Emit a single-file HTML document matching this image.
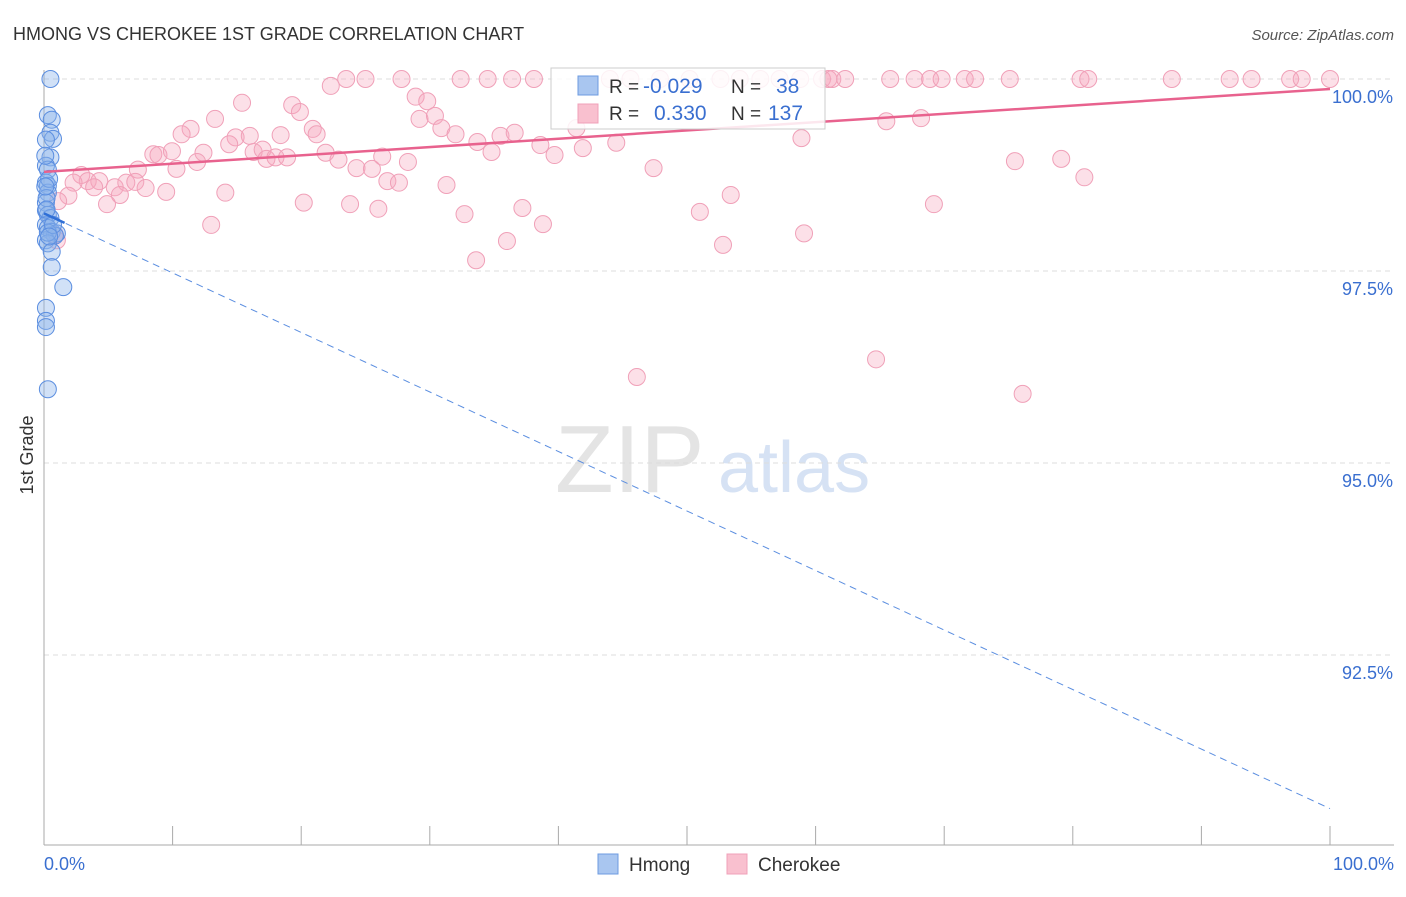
<!DOCTYPE html>
<html><head><meta charset="utf-8"><style>
body{margin:0;background:#fff;font-family:"Liberation Sans",sans-serif;}
svg text{font-family:"Liberation Sans",sans-serif;}
</style></head><body>
<svg id="chart" width="1406" height="892">
<text x="13" y="40" font-size="18" fill="#333">HMONG VS CHEROKEE 1ST GRADE CORRELATION CHART</text>
<text x="1394" y="40" font-size="15" fill="#555" text-anchor="end" font-style="italic">Source: ZipAtlas.com</text>
<text x="33" y="455" font-size="18" fill="#333" text-anchor="middle" transform="rotate(-90 33 455)">1st Grade</text>
<text x="555" y="492" font-size="96" fill="#e4e4e4" font-family="Liberation Serif">ZIP</text>
<text x="718" y="492" font-size="72" fill="#d6e2f4">atlas</text>
<g id="grid"></g><g id="pts"></g><g id="lines"></g>
<g>
<rect x="551" y="68" width="274" height="61" fill="#fff" fill-opacity="0.85" stroke="#ccc"/>
<rect x="578" y="76" width="20" height="19" fill="#a9c6f0" stroke="#6d9be0"/>
<rect x="578" y="104" width="20" height="19" fill="#f9c0cf" stroke="#f0a0b8"/>
<text x="609" y="93" font-size="19" fill="#333">R =</text><text x="643" y="93" font-size="21" fill="#3a6fd0">-0.029</text>
<text x="731" y="93" font-size="19" fill="#333">N =</text><text x="776" y="93" font-size="21" fill="#3a6fd0">38</text>
<text x="609" y="120" font-size="19" fill="#333">R =</text><text x="654" y="120" font-size="21" fill="#3a6fd0">0.330</text>
<text x="731" y="120" font-size="19" fill="#333">N =</text><text x="768" y="120" font-size="21" fill="#3a6fd0">137</text>
</g>
<g>
<rect x="598" y="854" width="20" height="20" fill="#a9c6f0" stroke="#6d9be0"/>
<text x="629" y="871" font-size="19" fill="#333">Hmong</text>
<rect x="727" y="854" width="20" height="20" fill="#f9c0cf" stroke="#f0a0b8"/>
<text x="758" y="871" font-size="19" fill="#333">Cherokee</text>
</g>
</svg>
<script>
const yTicks=[100,97.5,95,92.5];
const yTickLabels=["100.0%","97.5%","95.0%","92.5%"];
const xTicks=[0,10,20,30,40,50,60,70,80,90,100];
const xTickLabels=["0.0%","100.0%"];
const hmongX=[0.5,0.3,0.6,0.5,0.7,0.15,0.5,0.15,0.3,0.15,0.3,0.3,0.15,0.15,0.3,0.5,0.15,0.3,0.6,1.0,0.85,0.15,0.3,0.6,0.6,1.5,0.15,0.15,0.15,0.3,0.2,0.4,0.1,0.3,0.7,0.2,0.4,0.1];
const hmongY=[100,99.53,99.47,99.30,99.22,99.21,98.98,98.87,98.82,98.65,98.61,98.52,98.39,98.29,98.23,98.19,98.10,98.06,98.01,97.99,97.96,97.90,97.86,97.75,97.55,97.29,97.02,96.85,96.77,95.96,98.45,98.7,99.0,98.0,98.1,98.3,97.95,98.6];
const cherX=[23.5,25.0,27.8,32.4,34.5,36.4,38.1,44.0,45.6,47.9,50.2,52.6,54.1,55.7,57.2,58.8,60.5,61.0,61.3,62.3,65.8,67.7,68.9,69.8,71.6,72.4,75.1,80.6,81.2,87.7,92.2,93.9,96.9,97.8,100,
22.3,15.4,28.9,29.8,19.3,19.9,13.3,29.2,30.4,30.9,32.0,20.9,21.2,18.4,11.4,10.7,14.9,16.0,14.4,33.7,35.5,36.6,34.8,38.6,39.7,41.4,41.9,44.5,8.5,8.9,9.95,12.4,11.9,16.3,17.0,17.3,18.0,18.9,21.9,22.9,24.3,25.5,26.3,28.3,7.3,10.3,2.9,3.4,2.3,4.3,5.5,6.4,7.1,7.9,5.9,3.9,9.5,14.1,1.9,4.9,1.1,26.7,27.6,31.3,47.4,58.9,20.2,23.8,26.0,32.7,37.2,38.8,36.0,33.6,13.0,51.0,53.4,52.8,59.1,65.5,68.2,75.5,79.1,80.9,69.2,46.1,64.7,76.1,0.85,1.0];
const cherY=[100,100,100,100,100,100,100,100,100,100,100,100,100,100,100,100,100,100,100,100,100,100,100,100,100,100,100,100,100,100,100,100,100,100,100,
99.91,99.69,99.77,99.71,99.66,99.57,99.48,99.48,99.52,99.36,99.28,99.35,99.28,99.27,99.35,99.28,99.24,99.26,99.15,99.18,99.26,99.30,99.05,99.14,99.01,99.36,99.10,99.17,99.02,99.01,99.06,99.04,98.92,99.05,99.08,98.96,98.98,98.98,99.04,98.95,98.84,98.83,98.99,98.92,98.82,98.83,98.75,98.67,98.65,98.67,98.59,98.65,98.66,98.58,98.49,98.59,98.53,98.52,98.48,98.37,98.41,98.67,98.65,98.62,98.84,99.23,98.39,98.37,98.31,98.24,98.32,98.11,97.89,97.64,98.10,98.27,98.49,97.84,97.99,99.45,99.49,98.93,98.96,98.72,98.37,96.12,96.35,95.90,97.97,97.90];
const cherTrend=[98.79,99.87];
const hmongTrend=[98.25,90.5];
const NS="http://www.w3.org/2000/svg";
const X=v=>44+v*12.86, Y=v=>79+(100-v)*76.8;
function mk(t,a,p){const e=document.createElementNS(NS,t);for(const k in a)e.setAttribute(k,a[k]);p.appendChild(e);return e;}
const grid=document.getElementById('grid'),pts=document.getElementById('pts'),lines=document.getElementById('lines');
yTicks.forEach((t,i)=>{
 const l=mk('line',{x1:44,x2:1394,y1:Y(t),y2:Y(t),stroke:'#ddd','stroke-dasharray':'5,4'},grid);
 
 
 const tx=mk('text',{x:1393,y:Y(t)+24,'text-anchor':'end','font-size':18,fill:'#3a6fd0'},grid);tx.textContent=yTickLabels[i];
 
 
});
const ax=mk('line',{x1:44,x2:44,y1:70,y2:845,stroke:'#aaa'},grid);


const bx=mk('line',{x1:44,x2:1394,y1:845,y2:845,stroke:'#aaa'},grid);


xTicks.forEach(t=>{const l=mk('line',{x1:X(t),x2:X(t),y1:826,y2:845,stroke:'#aaa'},grid);
 
 });
[[0,'start',44],[100,'end',1394]].forEach((d,i)=>{const tx=mk('text',{x:d[2],y:870,'text-anchor':d[1],'font-size':18,fill:'#3a6fd0'},grid);tx.textContent=xTickLabels[i];
 
 });
cherX.forEach((x,i)=>{const c=mk('circle',{cx:X(x),cy:Y(cherY[i]),r:8.5,fill:'rgba(246,165,190,0.35)',stroke:'#f0a0b8','stroke-width':1},pts);
 
 });
hmongX.forEach((x,i)=>{const c=mk('circle',{cx:X(x),cy:Y(hmongY[i]),r:8.5,fill:'rgba(140,180,235,0.4)',stroke:'#5b8ee0','stroke-width':1},pts);
 
 });
const pl=mk('line',{x1:X(0),y1:Y(cherTrend[0]),x2:X(100),y2:Y(cherTrend[1]),stroke:'#e8628e','stroke-width':2.5},lines);


const hl=mk('line',{x1:X(0),y1:Y(hmongTrend[0]),x2:X(100),y2:Y(hmongTrend[1]),stroke:'#5b8ee0','stroke-width':1,'stroke-dasharray':'7,5'},lines);


const hs=mk('line',{x1:X(0),y1:Y(hmongTrend[0]),x2:X(1.6),y2:Y(hmongTrend[0]+(hmongTrend[1]-hmongTrend[0])*0.016),stroke:'#2f6fd6','stroke-width':2.5},lines);


</script>
</body></html>
